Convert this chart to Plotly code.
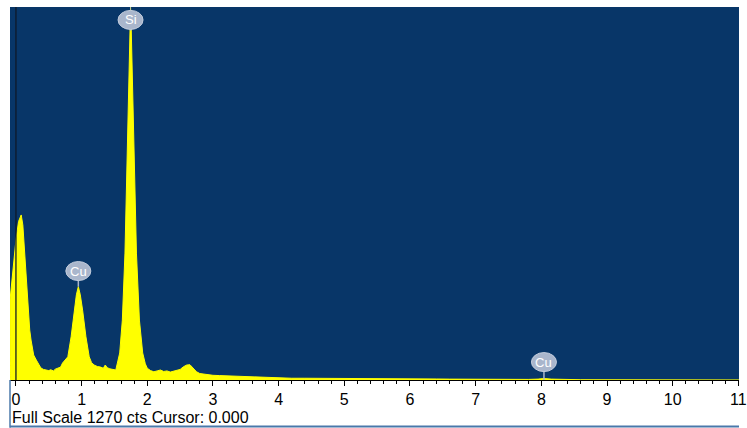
import plotly.graph_objects as go

# EDS spectrum: energy (keV) and counts
energy = [
    -0.09, -0.045, 0.0, 0.04, 0.08, 0.105, 0.13, 0.158, 0.18, 0.21, 0.23, 0.27, 0.31,
    0.35, 0.38, 0.42, 0.45, 0.5, 0.53, 0.57, 0.6, 0.64, 0.68, 0.71, 0.75, 0.79, 0.84,
    0.89, 0.92, 0.95, 0.98, 1.015, 1.066, 1.116, 1.15, 1.19, 1.24, 1.29, 1.33, 1.36,
    1.39, 1.43, 1.47, 1.52, 1.58, 1.62, 1.66, 1.69, 1.715, 1.735, 1.745, 1.755, 1.775,
    1.80, 1.835, 1.88, 1.93, 1.97, 2.0, 2.05, 2.1, 2.15, 2.2, 2.25, 2.3, 2.35, 2.4,
    2.45, 2.5, 2.55, 2.6, 2.65, 2.7, 2.75, 2.8, 2.85, 2.9, 2.95, 3.0, 3.1, 3.2, 3.3,
    3.4, 3.5, 3.6, 3.7, 3.8, 3.9, 4.0, 4.2, 4.4, 4.6, 4.8, 5.0, 5.2, 5.4, 5.6, 5.8,
    6.0, 6.2, 6.4, 6.6, 6.8, 7.0, 7.2, 7.4, 7.6, 7.8, 7.95, 8.04, 8.15, 8.3, 8.6, 9.0,
    9.5, 10.0, 10.5, 11.03,
]
counts = [
    272, 375, 477, 540, 562, 528, 443, 340, 272, 170, 136, 85, 68,
    50, 41, 36, 34, 32, 35, 31, 37, 40, 44, 58, 68, 79, 147,
    238, 290, 318, 290, 238, 147, 79, 60, 51, 46, 44, 40, 51,
    42, 38, 36, 34, 92, 204, 432, 700, 1000, 1200, 1268, 1200, 1000,
    720, 432, 204, 92, 55, 40, 32, 28, 31, 34, 29, 31, 27, 30,
    33, 36, 45, 51, 52, 40, 28, 22, 20, 18, 17, 16, 15, 14, 15,
    13, 13, 12, 10, 8, 8, 7, 6, 6, 6, 5, 5, 5, 4.5, 4.5, 4,
    4, 3.5, 3.5, 3, 2.5, 2, 1.5, 1.5, 1.5, 2, 3, 5, 3, 1.5, 1, 0.8,
    0.5, 0.5, 0.3, 0.2,
]

# Element markers
label_names = ["Si", "Cu", "Cu"]
label_energy = [1.745, 0.95, 8.04]
label_counts = [1226, 371, 61]
stem_bottom = [1190, 318, 0]

tick_values = list(range(0, 12))
tick_labels = [str(v) for v in tick_values]

full_scale = 1270
bg_blue = "#083668"
marker_fill = "#a9b6cc"
font_family = "Liberation Sans, Arial"

fig = go.Figure()
fig.add_trace(go.Scatter(
    x=energy, y=counts, mode="lines",
    line=dict(color="#ffff00", width=1),
    fill="tozeroy", fillcolor="#ffff00",
    hoverinfo="skip", showlegend=False,
))

shapes = []
# cursor line at 0 keV
shapes.append(dict(type="line", xref="x", yref="y", x0=0, x1=0, y0=0, y1=full_scale,
                   line=dict(color="rgba(15,25,40,0.85)", width=1.5), layer="above"))
# Si peak tip above its marker
shapes.append(dict(type="line", xref="x", yref="y", x0=label_energy[0], x1=label_energy[0],
                   y0=label_counts[0], y1=full_scale,
                   line=dict(color="#b8c890", width=1), layer="above"))
for name, e, yc, yb in zip(label_names, label_energy, label_counts, stem_bottom):
    shapes.append(dict(type="line", xref="x", yref="y", x0=e, x1=e, y0=yb, y1=yc,
                       line=dict(color=marker_fill, width=1.5), layer="above"))
    shapes.append(dict(type="circle", xref="x", yref="y",
                       xsizemode="pixel", ysizemode="pixel",
                       xanchor=e, yanchor=yc, x0=-12.5, x1=12.5, y0=-9.5, y1=9.5,
                       fillcolor=marker_fill, line=dict(color="#c3cddd", width=1),
                       layer="above"))

# frame lines around the footer
shapes.append(dict(type="line", xref="paper", yref="paper", x0=0, x1=0, y0=0, y1=-0.128,
                   line=dict(color="#4a78aa", width=1.5)))
shapes.append(dict(type="line", xref="paper", yref="paper", x0=0, x1=1.0, y0=-0.1247, y1=-0.1247,
                   line=dict(color="#4a78aa", width=2)))

annotations = []
for name, e, yc in zip(label_names, label_energy, label_counts):
    annotations.append(dict(x=e, y=yc, xref="x", yref="y", text=name, showarrow=False,
                            font=dict(family=font_family, size=13, color="white")))
annotations.append(dict(x=0, y=-0.1, xref="paper", yref="paper", xanchor="left", yanchor="middle",
                        text="Full Scale 1270 cts Cursor: 0.000", showarrow=False,
                        font=dict(family=font_family, size=16, color="black")))

fig.update_layout(
    width=747, height=428,
    margin=dict(l=10, r=0, t=7, b=48),
    paper_bgcolor="white", plot_bgcolor=bg_blue,
    shapes=shapes, annotations=annotations,
    xaxis=dict(range=[-0.0905, 11.01], tickvals=tick_values, ticktext=tick_labels,
               showgrid=False, zeroline=False, showline=True, linecolor="black", linewidth=1,
               ticks="outside", ticklen=5, tickcolor="black", tickwidth=1,
               ticklabeloverflow="allow",
               minor=dict(dtick=0.2, tick0=0, ticks="outside", ticklen=3, tickcolor="black",
                          tickwidth=1, showgrid=False),
               tickfont=dict(family=font_family, size=16, color="black")),
    yaxis=dict(range=[0, full_scale], visible=False, showgrid=False, zeroline=False),
)

fig.write_html("out.html")
